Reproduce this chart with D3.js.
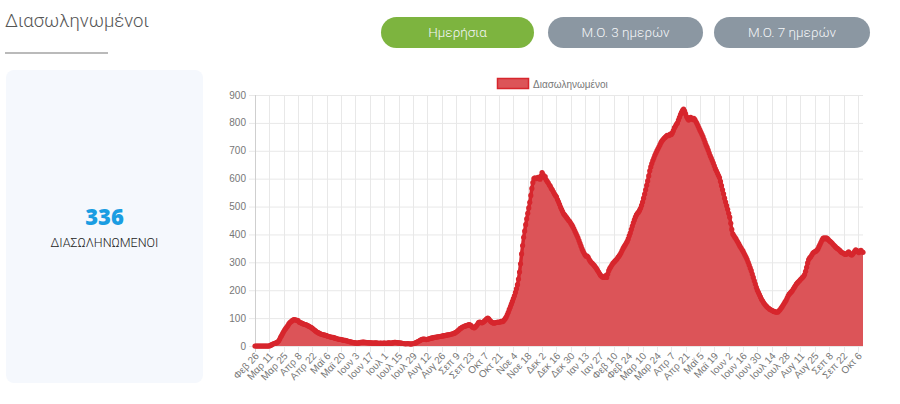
<!DOCTYPE html>
<html>
<head>
<meta charset="utf-8">
<script src="https://cdn.jsdelivr.net/npm/d3@7"></script>
<style>
  body { margin: 0; background: #fff; font-family: Roboto, "Noto Sans", sans-serif; }
  svg { display: block; }
</style>
</head>
<body>
<svg id="chart" width="900" height="404"></svg>
<script>
// daily intubated patients, from 26 Feb 2020
const startDate = new Date(2020, 1, 26);
const monthNames = ["Ιαν", "Φεβ", "Μαρ", "Απρ", "Μαϊ", "Ιουν", "Ιουλ", "Αυγ", "Σεπ", "Οκτ", "Νοε", "Δεκ"];
const values = [
  0,0,0,0,0,0,0,0,0,0,0,0,0,0,0,
  2,4,6,8,9,10,12,14,18,
  24,32,38,45,52,58,63,68,73,79,84,87,90,93,95,94,93,92,91,
  86,84,83,81,79,78,77,76,74,72,70,68,66,63,60,57,54,51,49,47,
  45,43,42,41,40,39,38,37,35,34,33,32,31,31,30,28,27,26,25,24,
  24,23,22,21,20,20,19,18,17,16,15,14,13,12,12,11,10,10,11,12,
  13,13,14,14,13,13,12,12,12,11,11,11,10,10,11,11,10,10,9,10,
  10,9,10,10,10,9,10,11,11,10,10,11,12,13,13,12,12,11,11,10,
  10,9,9,8,8,8,9,8,8,7,8,8,9,10,12,14,16,18,20,22,
  24,25,25,24,23,24,25,26,27,28,29,30,31,31,32,33,33,34,35,35,
  36,37,37,38,39,40,40,41,42,43,44,45,47,49,52,55,58,62,64,67,
  69,70,72,73,74,76,77,75,72,68,66,65,69,73,78,84,86,85,83,84,
  87,90,94,97,100,97,92,88,85,83,82,83,84,85,86,85,86,88,87,89,
  93,98,104,112,121,131,140,150,160,170,180,192,205,220,240,265,295,330,360,390,
  412,435,456,476,495,515,540,565,586,600,603,600,601,605,601,598,610,622,615,604,
  607,596,590,585,578,573,565,560,553,546,540,535,525,517,508,498,490,482,474,470,
  465,460,455,450,446,440,434,428,420,412,404,396,388,378,368,358,348,340,332,326,
  322,322,318,310,304,299,296,292,288,283,278,272,266,260,254,250,247,246,248,252,
  246,258,270,278,284,290,296,300,304,308,312,318,322,328,334,342,350,356,362,368,
  375,384,395,405,418,430,442,452,462,470,476,480,486,494,504,516,530,545,560,576,
  592,610,628,642,654,665,674,684,692,700,707,714,722,730,736,740,745,748,752,755,
  754,756,760,758,764,772,782,788,795,800,810,820,830,838,845,849,842,832,822,815,
  810,818,820,815,812,816,812,805,798,790,782,774,766,758,750,740,730,720,712,702,
  692,682,674,665,656,646,636,628,620,612,604,590,575,560,546,530,516,503,490,476,
  462,440,418,402,396,390,385,378,372,365,358,352,346,340,332,325,318,310,300,290,
  280,270,258,246,234,222,210,200,192,184,176,168,162,156,150,146,142,138,135,132,
  130,128,126,124,123,122,121,122,126,130,135,140,146,152,158,164,172,180,186,190,
  194,198,204,210,216,222,226,230,234,238,242,246,250,256,268,282,298,310,316,320,
  326,332,336,338,340,343,348,356,364,372,380,386,388,384,388,386,382,378,375,372,
  368,364,360,356,352,350,347,344,340,336,334,332,330,328,330,334,338,332,328,326,
  330,335,340,345,342,338,335,340,343,338,336
];
const yTicks = [0, 100, 200, 300, 400, 500, 600, 700, 800, 900];
const tickStep = 14;
const seriesName = "Διασωληνωμένοι";
const buttonLabels = ["Ημερήσια", "Μ.Ο. 3 ημερών", "Μ.Ο. 7 ημερών"];

const svg = d3.select("#chart");
const fillColor = "#dc5458", lineColor = "#d7262d", gridColor = "#e8e8e8", tickColor = "#777";

// header
svg.append("text").attr("x", 5).attr("y", 27)
  .style("font-family", "Roboto").style("font-weight", 300).style("font-size", "18.5px")
  .attr("fill", "#555").text(seriesName);
svg.append("line").attr("x1", 5).attr("x2", 108).attr("y1", 53).attr("y2", 53)
  .attr("stroke", "#777").attr("stroke-width", 1.2);

const btnPos = [[381, 534], [548, 703], [714, 870]];
buttonLabels.forEach((b, i) => {
  const [x0, x1] = btnPos[i];
  svg.append("rect").attr("x", x0).attr("y", 17).attr("width", x1 - x0).attr("height", 31)
    .attr("rx", 15.5).attr("fill", i === 0 ? "#7db43f" : "#8b97a2");
  svg.append("text").attr("x", (x0 + x1) / 2).attr("y", 37).attr("text-anchor", "middle")
    .style("font-family", "Roboto").style("font-weight", 300).style("font-size", "13.5px")
    .attr("fill", "#f4f6f8").text(b);
});

// left card
svg.append("rect").attr("x", 6).attr("y", 70).attr("width", 197).attr("height", 313)
  .attr("rx", 8).attr("fill", "#f5f8fd");
svg.append("text").attr("x", 104.5).attr("y", 225).attr("text-anchor", "middle")
  .style("font-family", "'Open Sans'").style("font-weight", 800).style("font-size", "22px")
  .attr("fill", "#1a9de2").text(values[values.length - 1]);
svg.append("text").attr("x", 104.5).attr("y", 247).attr("text-anchor", "middle")
  .style("font-family", "Roboto").style("font-weight", 300).style("font-size", "12.5px")
  .attr("fill", "#222").text("ΔΙΑΣΩΛΗΝΩΜΕΝΟΙ");

// chart
const plot = { left: 255, right: 863, top: 95, bottom: 346 };
const x = d3.scaleLinear().domain([0, values.length - 1]).range([plot.left, plot.right]);
const y = d3.scaleLinear().domain([0, 900]).range([plot.bottom, plot.top]);
const g = svg.append("g");

// horizontal grid + y labels
g.selectAll(".hgrid").data(yTicks).enter().append("line")
  .attr("x1", plot.left - 6).attr("x2", plot.right)
  .attr("y1", d => y(d) + 0.5).attr("y2", d => y(d) + 0.5)
  .attr("stroke", gridColor).attr("stroke-width", 1);
g.selectAll(".ylab").data(yTicks).enter().append("text")
  .attr("x", plot.left - 9).attr("y", d => y(d)).attr("dy", "0.35em")
  .attr("text-anchor", "end").style("font-family", "Arial, 'Liberation Sans'")
  .style("font-size", "10px").attr("fill", tickColor).text(d => d);

// vertical grid + x labels every 14 days
const tickIdx = d3.range(0, values.length, tickStep);
const fmt = i => {
  const d = d3.timeDay.offset(startDate, i);
  return monthNames[d.getMonth()] + " " + d.getDate();
};
g.selectAll(".vgrid").data(tickIdx).enter().append("line")
  .attr("x1", d => Math.round(x(d)) + 0.5).attr("x2", d => Math.round(x(d)) + 0.5)
  .attr("y1", plot.top).attr("y2", plot.bottom + 6)
  .attr("stroke", d => d === 0 ? "#cfcfcf" : gridColor).attr("stroke-width", 1);
g.selectAll(".xlab").data(tickIdx).enter().append("text")
  .attr("transform", d => `translate(${x(d) + 2},${354}) rotate(-47)`)
  .attr("dy", "0.35em").attr("text-anchor", "end")
  .style("font-family", "Arial, 'Liberation Sans'").style("font-size", "10px")
  .attr("fill", tickColor).text(fmt);

// area + line + points
const area = d3.area().x((d, i) => x(i)).y0(y(0)).y1(d => y(d));
const line = d3.line().x((d, i) => x(i)).y(d => y(d));
g.append("path").datum(values).attr("d", area).attr("fill", fillColor);
g.append("path").datum(values).attr("d", line).attr("fill", "none")
  .attr("stroke", lineColor).attr("stroke-width", 3.5).attr("stroke-linejoin", "round");
g.selectAll(".pt").data(values).enter().append("circle")
  .attr("cx", (d, i) => x(i)).attr("cy", d => y(d)).attr("r", 2.6)
  .attr("fill", lineColor);

// legend
svg.append("rect").attr("x", 497.5).attr("y", 78.5).attr("width", 31).attr("height", 10)
  .attr("fill", fillColor).attr("stroke", lineColor).attr("stroke-width", 1.5);
svg.append("text").attr("x", 533).attr("y", 84).attr("dy", "0.35em")
  .style("font-family", "Arial, 'Liberation Sans'").style("font-size", "10px")
  .attr("fill", tickColor).text(seriesName);
</script>
</body>
</html>
